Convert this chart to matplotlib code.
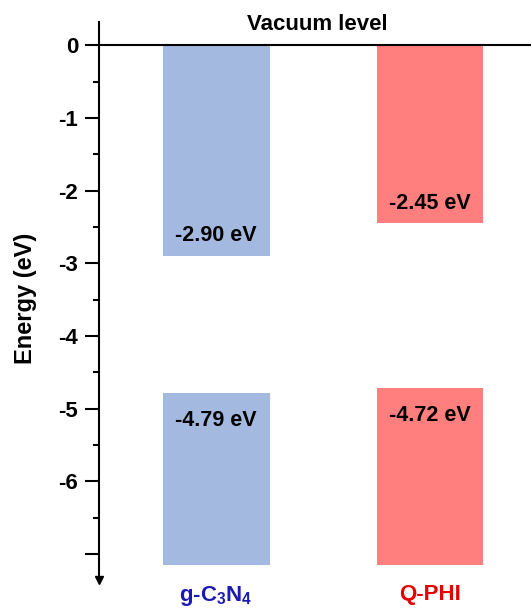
import matplotlib.pyplot as plt
from matplotlib.ticker import MultipleLocator, FixedFormatter, FixedLocator

plt.rcParams['font.family'] = ['Liberation Sans', 'DejaVu Sans']
plt.rcParams['font.weight'] = 'bold'
plt.rcParams['mathtext.fontset'] = 'custom'
plt.rcParams['mathtext.rm'] = 'Liberation Sans:bold'
plt.rcParams['mathtext.it'] = 'Liberation Sans:bold'
plt.rcParams['mathtext.bf'] = 'Liberation Sans:bold'

# data
materials = ['g-C$_3$N$_4$', 'Q-PHI']
cb_levels = [-2.90, -2.45]   # conduction band (top bars end here)
vb_levels = [-4.79, -4.72]   # valence band (bottom bars start here)
bar_floor = -7.15
bar_colors = ['#a3b9e0', '#ff7f7f']
label_colors = ['#1a1ab4', '#e60000']

fig = plt.figure(figsize=(5.31, 6.10), dpi=100)
ax = fig.add_axes([99 / 531, 30 / 610, 1 - 99 / 531, (580 - 22) / 610])

x = [0, 1]
w = 0.5
# upper bars from vacuum level down to CB
ax.bar(x, cb_levels, width=w, bottom=0, color=bar_colors, zorder=1)
# lower bars from VB down to the floor
ax.bar(x, [v - bar_floor for v in vb_levels], width=w, bottom=bar_floor,
       color=bar_colors, zorder=1)

for i in range(len(x)):
    ax.annotate('%.2f eV' % cb_levels[i], (x[i], cb_levels[i]),
                xytext=(0, 7), textcoords='offset points',
                ha='center', va='bottom', fontsize=15.5, fontweight='bold')
    ax.annotate('%.2f eV' % vb_levels[i], (x[i], vb_levels[i]),
                xytext=(0, -12), textcoords='offset points',
                ha='center', va='top', fontsize=15.5, fontweight='bold')

ax.axhline(0, color='k', lw=1.5, zorder=3)
ax.text(0.505, 0.29, 'Vacuum level', ha='center', va='center', fontsize=16,
        fontweight='bold', transform=ax.get_yaxis_transform())

ax.set_xlim(-0.547, 1.472)
ax.set_ylim(-7.36, 0.32)

for s in ['top', 'right', 'bottom']:
    ax.spines[s].set_visible(False)
ax.spines['left'].set_linewidth(1.5)

ax.yaxis.set_major_locator(FixedLocator([0, -1, -2, -3, -4, -5, -6, -7]))
ax.yaxis.set_major_formatter(FixedFormatter(['0', '-1', '-2', '-3', '-4', '-5', '-6', '']))
ax.yaxis.set_minor_locator(MultipleLocator(0.5))
ax.tick_params(axis='y', which='major', length=10, width=1.5, labelsize=16, pad=5)
ax.tick_params(axis='y', which='minor', length=4.5, width=1.5)

ax.set_xticks(x)
ax.set_xticklabels(materials, fontsize=16, fontweight='bold')
ax.tick_params(axis='x', length=0, pad=3)
for lbl, c in zip(ax.get_xticklabels(), label_colors):
    lbl.set_color(c)

ax.plot(0, 0, marker='v', color='k', markersize=6, transform=ax.transAxes,
        clip_on=False)

ax.set_ylabel('Energy (eV)', fontsize=17, fontweight='bold')
ax.yaxis.set_label_coords(-0.144, 0.505)

plt.savefig('out.png', dpi=100)
